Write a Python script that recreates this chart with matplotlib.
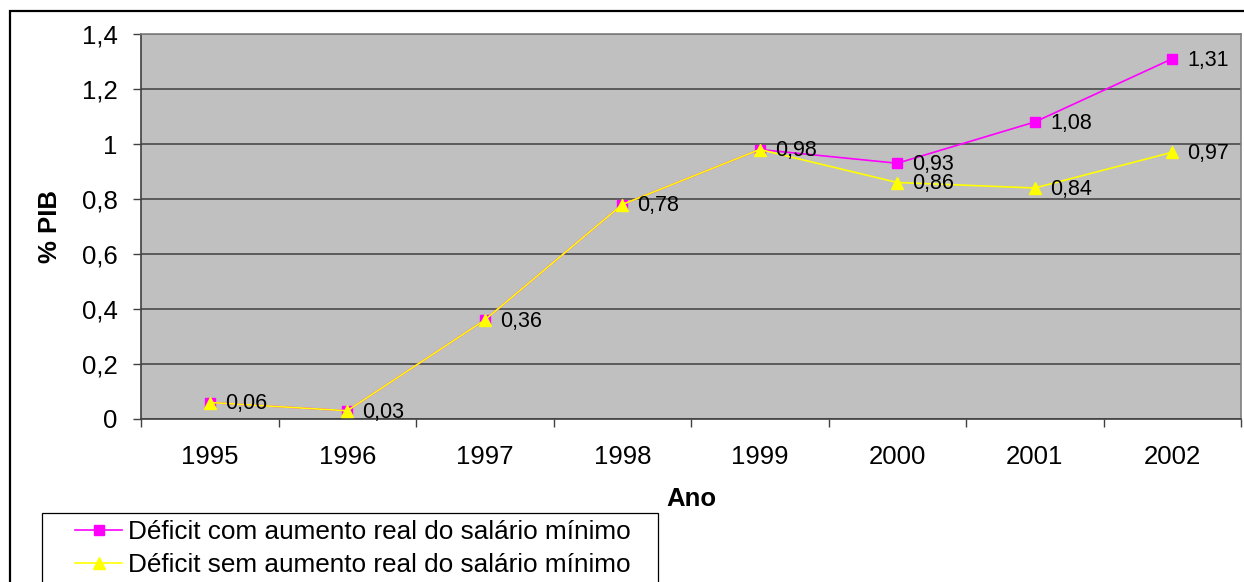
import matplotlib
matplotlib.use("Agg")
import matplotlib.pyplot as plt
from matplotlib.patches import Rectangle

plt.rcParams['font.family'] = ['Liberation Sans', 'DejaVu Sans']

anos = ['1995', '1996', '1997', '1998', '1999', '2000', '2001', '2002']
com_aumento = [0.06, 0.03, 0.36, 0.78, 0.98, 0.93, 1.08, 1.31]
sem_aumento = [0.06, 0.03, 0.36, 0.78, 0.98, 0.86, 0.84, 0.97]
yticks = [0, 0.2, 0.4, 0.6, 0.8, 1.0, 1.2, 1.4]
ytick_labels = ['0', '0,2', '0,4', '0,6', '0,8', '1', '1,2', '1,4']

W, H = 1244, 582
fig = plt.figure(figsize=(W / 100, H / 100), dpi=100)
ax = fig.add_axes([141 / W, (H - 419) / H, 1100 / W, 385 / H])
ax.set_facecolor('#C0C0C0')

x = list(range(len(anos)))
ax.plot(x, com_aumento, color='#FF00FF', lw=1.2, marker='s', ms=6.8,
        mec='#FF00FF', mfc='#FF00FF', label='Déficit com aumento real do salário mínimo', zorder=3)
ax.plot(x, sem_aumento, color='#FFFF00', lw=1.2, marker='^', ms=9,
        mec='#FFFF00', mfc='#FFFF00', label='Déficit sem aumento real do salário mínimo', zorder=4)

def fmt(v):
    return f'{v:.2f}'.replace('.', ',')

for xi, v in zip(x, com_aumento):
    ax.annotate(fmt(v), (xi, v), xytext=(11, -1), textcoords='offset points',
                ha='left', va='center', fontsize=15.5, zorder=5)
for xi, v, vc in zip(x, sem_aumento, com_aumento):
    if v != vc:
        ax.annotate(fmt(v), (xi, v), xytext=(11, -1), textcoords='offset points',
                    ha='left', va='center', fontsize=15.5, zorder=5)

ax.set_xlim(-0.5, len(anos) - 0.5)
ax.set_ylim(0, 1.4)
ax.set_yticks(yticks)
ax.set_yticklabels(ytick_labels, fontsize=18.5)
ax.yaxis.grid(True, color='#404040', lw=1.1)
ax.set_axisbelow(True)

ax.set_xticks([i - 0.5 for i in range(len(anos) + 1)])
ax.set_xticklabels([])
ax.set_xticks(x, minor=True)
ax.set_xticklabels(anos, minor=True, fontsize=18.5)
ax.tick_params(axis='x', which='major', length=6, width=1, color='#404040', direction='out')
ax.tick_params(axis='x', which='minor', length=0, pad=19)
ax.tick_params(axis='y', length=6, width=1, color='#404040', pad=11)

for side in ('top', 'right'):
    ax.spines[side].set_color('#808080')
    ax.spines[side].set_linewidth(1.2)
for side in ('left', 'bottom'):
    ax.spines[side].set_color('#404040')
    ax.spines[side].set_linewidth(1.2)

ax.set_xlabel('Ano', fontsize=18.5, fontweight='bold', labelpad=13)
ax.set_ylabel('% PIB', fontsize=18.5, fontweight='bold', labelpad=14)

# legend entries without frame; the box is drawn separately below
leg = fig.legend(loc='upper left', bbox_to_anchor=(75 / W, 1 - 520 / H), borderaxespad=0,
                 fontsize=18.8, frameon=False,
                 handlelength=1.8, handletextpad=0.22, labelspacing=0.36, borderpad=0)
fig.patches.append(Rectangle((42 / W, -0.1), 616 / W, 1 - 513 / H + 0.1, transform=fig.transFigure,
                             fill=False, edgecolor='black', lw=0.9, zorder=10))

# outer chart frame
fig.patches.append(Rectangle((10 / W, -0.1), 1.2, 1 - 11 / H + 0.1, transform=fig.transFigure,
                             fill=False, edgecolor='black', lw=1.6, zorder=10))

fig.savefig('out.png', dpi=100, facecolor='white')
